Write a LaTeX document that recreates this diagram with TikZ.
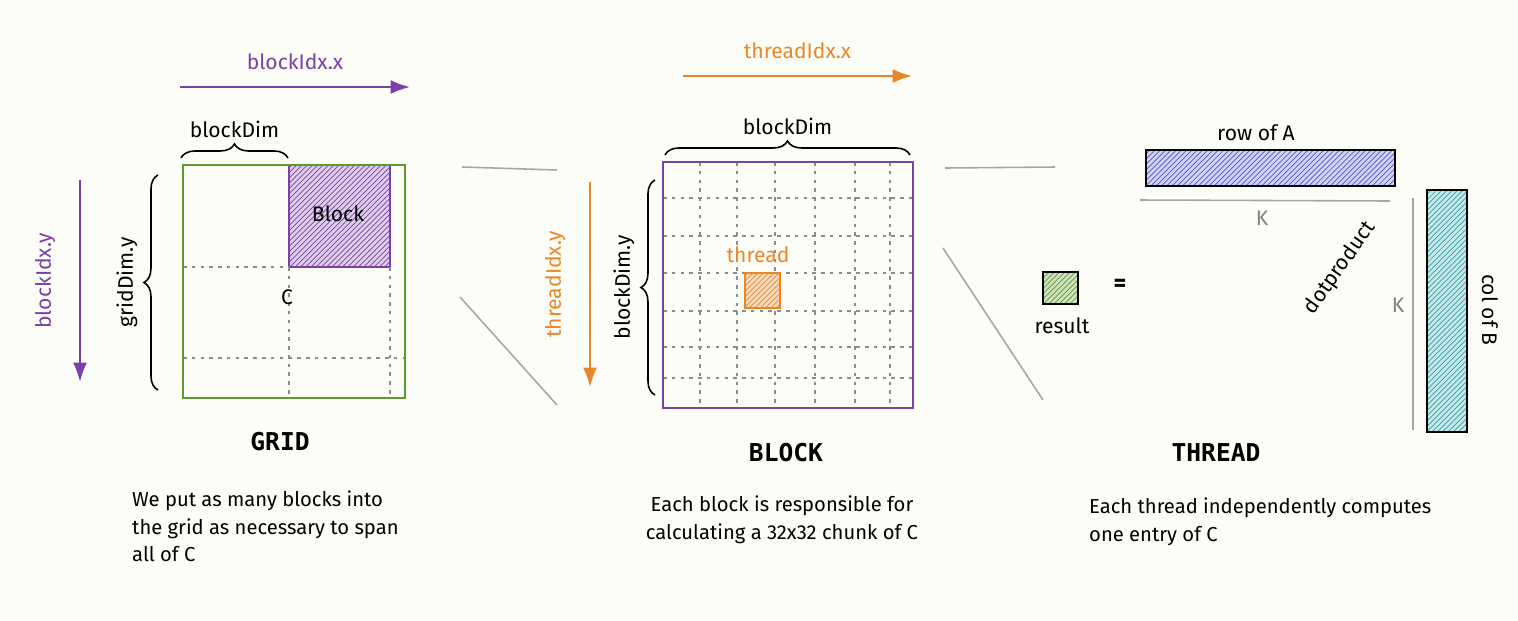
\documentclass[tikz,border=0pt]{standalone}
\usepackage{fontspec}
\setmainfont{Fira Sans}
\newfontfamily\mono{DejaVu Sans Mono}
\usetikzlibrary{patterns,decorations.pathreplacing,arrows.meta}
\definecolor{bg}{HTML}{FDFDF8}
\definecolor{pur}{HTML}{7B3FA8}
\definecolor{org}{HTML}{E8862A}
\definecolor{grn}{HTML}{5E9B2E}
\definecolor{blu}{HTML}{4A55D0}
\definecolor{tea}{HTML}{2AA3A8}
\tikzset{
 lbl/.style={font=\fontsize{12}{14}\selectfont},
 big/.style={font=\mono\bfseries\fontsize{14}{16}\selectfont},
 desc/.style={font=\fontsize{11.5}{15.5}\selectfont,align=left,anchor=north west},
 grd/.style={gray!90,dash pattern=on 2pt off 3pt,line width=0.7pt},
 con/.style={gray!70,line width=0.9pt},
 arr/.style={-{Latex[length=11pt,width=8pt]},line width=1.3pt},
 brc/.style={decorate,decoration={brace,amplitude=8pt},line width=0.9pt}
}
\begin{document}
\begin{tikzpicture}[x=0.02cm,y=-0.02cm]
\fill[bg] (0,0) rectangle (1518,620);
\useasboundingbox (0,0) rectangle (1518,620);
% GRID
\fill[pur!25] (289,165) rectangle (390,267);
\fill[pattern=north east lines,pattern color=pur] (289,165) rectangle (390,267);
\draw[pur,line width=1pt] (289,165) rectangle (390,267);
\draw[grd] (289,267) -- (289,398) (183,267) -- (289,267) (183,358) -- (405,358) (390,267) -- (390,398);
\draw[grn,line width=1.2pt] (183,165) rectangle (405,398);
\node[lbl] (blkt) at (338,214) {Block};
\node[lbl] (ct) at (287,297) {C};
\draw[brc] (181,158) -- node[lbl,above=8pt] (bd1) {blockDim} (288,158);
\draw[brc] (158,390) -- node[lbl,rotate=90,above=8pt] (gd) {gridDim.y} (158,175);
\coordinate (bx1) at (180,87); \coordinate (bx2) at (410,87);
\draw[arr,pur] (bx1) -- node[lbl,above=6pt,text=pur] (bxl) {blockIdx.x} (bx2);
\coordinate (by1) at (80,180); \coordinate (by2) at (80,382);
\draw[arr,pur] (by1) -- node[lbl,rotate=90,above=10pt,text=pur] (byl) {blockIdx.y} (by2);
\node[big] (g) at (280,442) {GRID};
\node[desc] (gd2) at (126,485) {We put as many blocks into\\the grid as necessary to span\\all of C};
% connectors
\coordinate (l1a) at (462,167); \coordinate (l1b) at (557,170);
\coordinate (l2a) at (460,297); \coordinate (l2b) at (557,405);
\draw[con] (l1a) -- (l1b); \draw[con] (l2a) -- (l2b);
% BLOCK
\foreach \x in {700,737,775,815,855,890} \draw[grd] (\x,162) -- (\x,408);
\foreach \y in {198,236,273,311,347,378} \draw[grd] (663,\y) -- (913,\y);
\fill[org!30] (745,273) rectangle (780,308);
\fill[pattern=north east lines,pattern color=org] (745,273) rectangle (780,308);
\draw[org,line width=1pt] (745,273) rectangle (780,308);
\node[lbl,text=org] (th) at (758,255) {thread};
\draw[pur,line width=1.2pt] (663,162) rectangle (913,408);
\draw[brc] (665,155) -- node[lbl,above=8pt] (bd2) {blockDim} (910,155);
\draw[brc] (655,395) -- node[lbl,rotate=90,above=8pt] (bdy) {blockDim.y} (655,180);
\coordinate (tx1) at (683,76); \coordinate (tx2) at (912,76);
\draw[arr,org] (tx1) -- node[lbl,above=6pt,text=org] (txl) {threadIdx.x} (tx2);
\coordinate (ty1) at (590,182); \coordinate (ty2) at (590,387);
\draw[arr,org] (ty1) -- node[lbl,rotate=90,above=10pt,text=org] (tyl) {threadIdx.y} (ty2);
\node[big] (b) at (786,453) {BLOCK};
\node[desc,align=center,anchor=north] (bd3) at (782,490) {Each block is responsible for\\calculating a 32x32 chunk of C};
% connectors
\coordinate (l3a) at (945,168); \coordinate (l3b) at (1055,167);
\coordinate (l4a) at (943,248); \coordinate (l4b) at (1043,400);
\draw[con] (l3a) -- (l3b); \draw[con] (l4a) -- (l4b);
% THREAD
\fill[blu!25] (1146,150) rectangle (1395,186);
\fill[pattern=north east lines,pattern color=blu] (1146,150) rectangle (1395,186);
\draw[black,line width=1pt] (1146,150) rectangle (1395,186);
\node[lbl] (ra) at (1256,133) {row of A};
\coordinate (k1a) at (1140,200); \coordinate (k1b) at (1390,201);
\draw[con] (k1a) -- (k1b);
\node[lbl,text=gray] (k1) at (1262,218) {K};
\fill[tea!25] (1427,190) rectangle (1467,432);
\fill[pattern=north east lines,pattern color=tea] (1427,190) rectangle (1467,432);
\draw[black,line width=1pt] (1427,190) rectangle (1467,432);
\node[lbl,rotate=-90] (cb) at (1490,310) {col of B};
\coordinate (k2a) at (1413,198); \coordinate (k2b) at (1413,430);
\draw[con] (k2a) -- (k2b);
\node[lbl,text=gray] (k2) at (1398,305) {K};
\node[lbl,rotate=55,inner sep=0pt] (dp) at (1340,268) {dotproduct};
\fill[grn!30] (1043,272) rectangle (1078,304);
\fill[pattern=north east lines,pattern color=grn] (1043,272) rectangle (1078,304);
\draw[black,line width=1pt] (1043,272) rectangle (1078,304);
\node[lbl] (res) at (1062,326) {result};
\node[font=\bfseries\fontsize{14}{16}\selectfont] (eq) at (1120,285) {=};
\node[big] (t) at (1216,453) {THREAD};
\node[desc] (td) at (1083,492) {Each thread independently computes\\one entry of C};
\end{tikzpicture}
\end{document}
